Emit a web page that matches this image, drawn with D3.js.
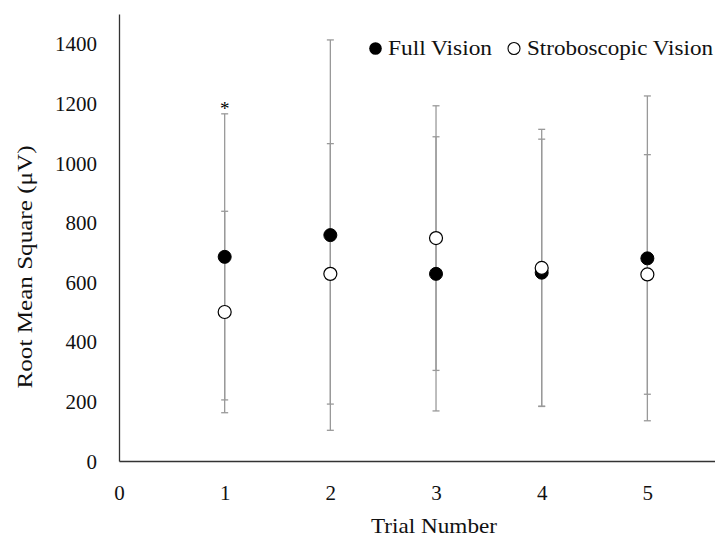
<!DOCTYPE html>
<html>
<head>
<meta charset="utf-8">
<script src="https://cdn.jsdelivr.net/npm/d3@7"></script>
<style>
  body { margin: 0; background: #fff; }
  text { font-family: 'Liberation Serif', serif; }
</style>
</head>
<body>
<div id='chart'></div>
<script>

// Data
const trials = [1, 2, 3, 4, 5];
const fullMean = [685, 758, 628, 632, 680];
const fullErr = [480, 655, 460, 448, 545];
const stroMean = [500, 628, 748, 648, 626];
const stroErr = [338, 437, 444, 465, 402];
const yTicks = [0, 200, 400, 600, 800, 1000, 1200, 1400];
const xTicks = [0, 1, 2, 3, 4, 5];
const seriesNames = ['Full Vision', 'Stroboscopic Vision'];

// Page Dimensions
const W = 715, H = 538;
const margin = {top: 14, right: 0, bottom: 77, left: 119};

const svg = d3.select('#chart').append('svg')
  .attr('width', W)
  .attr('height', H);

const x = d3.scaleLinear().domain([0, 5.64]).range([margin.left, W - margin.right]);
const y = d3.scaleLinear().domain([0, 1500]).range([H - margin.bottom, margin.top]);

const axisColor = '#333';
const barColor = '#999';
const fontSize = 21;

// Axes
const yAxis = svg.append('g')
  .attr('transform', `translate(${margin.left},0)`)
  .call(d3.axisLeft(y).tickValues(yTicks).tickFormat(d3.format('d')).tickSize(0).tickPadding(22));
yAxis.select('.domain').attr('stroke', axisColor).attr('stroke-width', 1.3);
yAxis.selectAll('text')
  .attr('font-family', 'Liberation Serif')
  .attr('font-size', fontSize)
  .attr('fill', '#111')
  .attr('dy', '0.34em');

const xAxis = svg.append('g')
  .attr('transform', `translate(0,${H - margin.bottom})`)
  .call(d3.axisBottom(x).tickValues(xTicks).tickFormat(d3.format('d')).tickSize(0).tickPadding(24));
xAxis.select('.domain').attr('stroke', axisColor).attr('stroke-width', 1.3);
xAxis.selectAll('text')
  .attr('font-family', 'Liberation Serif')
  .attr('font-size', fontSize)
  .attr('fill', '#111');

// Axis titles (stretched a little to match the wider original face)
svg.append('text')
  .attr('x', 434)
  .attr('y', 533)
  .attr('text-anchor', 'middle')
  .attr('font-size', fontSize)
  .attr('textLength', 126)
  .attr('lengthAdjust', 'spacingAndGlyphs')
  .attr('fill', '#111')
  .text('Trial Number');

svg.append('text')
  .attr('transform', 'translate(32,267) rotate(-90)')
  .attr('text-anchor', 'middle')
  .attr('font-size', fontSize)
  .attr('textLength', 243)
  .attr('lengthAdjust', 'spacingAndGlyphs')
  .attr('fill', '#111')
  .text('Root Mean Square (\u03BCV)');

// Error bars
const capW = 3.5;
function errorBars(means, errs) {
  const g = svg.append('g');
  trials.forEach((t, i) => {
    const lo = means[i] - errs[i], hi = means[i] + errs[i];
    g.append('line')
      .attr('x1', x(t)).attr('x2', x(t))
      .attr('y1', y(lo)).attr('y2', y(hi))
      .attr('stroke', barColor).attr('stroke-width', 1.3);
    [lo, hi].forEach(v => {
      g.append('line')
        .attr('x1', x(t) - capW).attr('x2', x(t) + capW)
        .attr('y1', y(v)).attr('y2', y(v))
        .attr('stroke', barColor).attr('stroke-width', 1.3);
    });
  });
}
errorBars(fullMean, fullErr);
errorBars(stroMean, stroErr);

// Markers
svg.append('g').selectAll('circle')
  .data(trials)
  .enter().append('circle')
  .attr('cx', d => x(d))
  .attr('cy', (d, i) => y(fullMean[i]))
  .attr('r', 6.5)
  .attr('fill', '#000')
  .attr('stroke', '#000')
  .attr('stroke-width', 1);

svg.append('g').selectAll('circle')
  .data(trials)
  .enter().append('circle')
  .attr('cx', d => x(d))
  .attr('cy', (d, i) => y(stroMean[i]))
  .attr('r', 6.5)
  .attr('fill', '#fff')
  .attr('stroke', '#000')
  .attr('stroke-width', 1.2);

// Significance marker
svg.append('text')
  .attr('x', x(1))
  .attr('y', y(fullMean[0] + fullErr[0]) + 1)
  .attr('text-anchor', 'middle')
  .attr('font-size', 19)
  .attr('fill', '#000')
  .text('*');

// Legend
const legend = svg.append('g');
legend.append('circle')
  .attr('cx', 375.5).attr('cy', 48.5).attr('r', 6.3)
  .attr('fill', '#000');
legend.append('text')
  .attr('x', 388).attr('y', 55)
  .attr('font-size', fontSize)
  .attr('textLength', 104)
  .attr('lengthAdjust', 'spacingAndGlyphs')
  .attr('fill', '#111')
  .text(seriesNames[0]);
legend.append('circle')
  .attr('cx', 514).attr('cy', 48.5).attr('r', 6)
  .attr('fill', '#fff')
  .attr('stroke', '#000')
  .attr('stroke-width', 1.1);
legend.append('text')
  .attr('x', 527).attr('y', 55)
  .attr('font-size', fontSize)
  .attr('textLength', 186)
  .attr('lengthAdjust', 'spacingAndGlyphs')
  .attr('fill', '#111')
  .text(seriesNames[1]);

</script>
</body>
</html>
